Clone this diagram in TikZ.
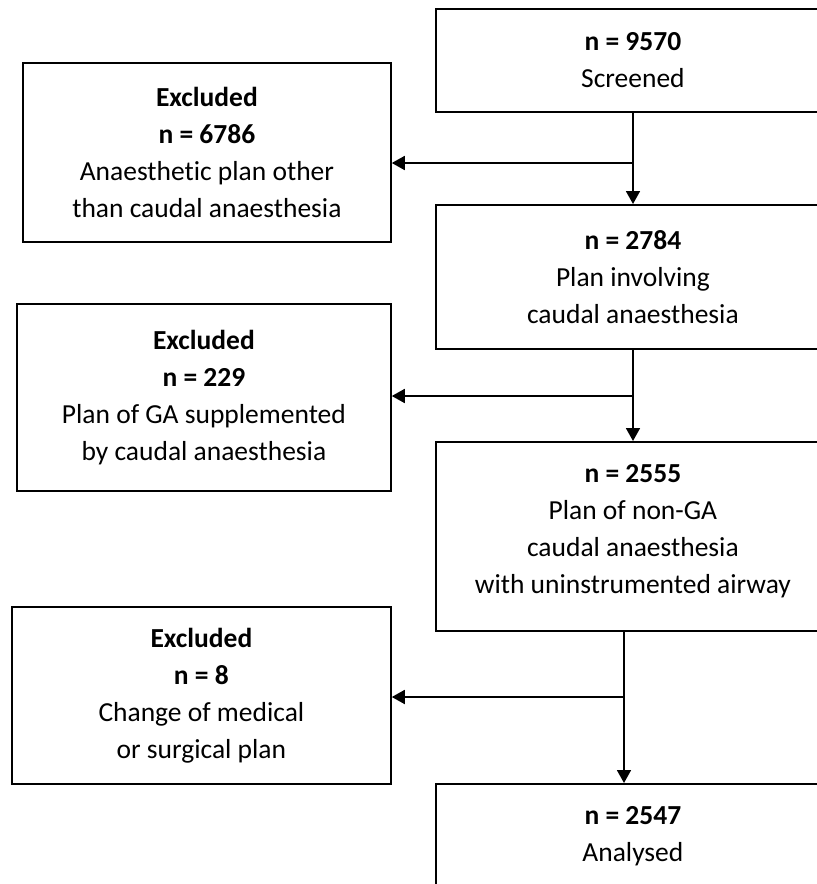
\documentclass[tikz,border=0pt]{standalone}
\usepackage{fontspec}
\setmainfont{Carlito}[Ligatures={NoCommon}]
\usetikzlibrary{arrows.meta}
\begin{document}
\begin{tikzpicture}[x=1pt,y=-1pt,
 box/.style={draw, line width=1.8pt, align=center, inner sep=0pt, anchor=north west, font=\fontsize{27.5}{37}\selectfont},
 arr/.style={line width=1.8pt, -{Triangle[length=13pt,width=14pt]}}]
\useasboundingbox (0,0) rectangle (817,884);
\node[box, minimum width=394pt, minimum height=103pt] (s) at (435,8) {\textbf{n = 9570}\\Screened};
\node[box, minimum width=394pt, minimum height=144pt] (p) at (435,204) {\textbf{n = 2784}\\Plan involving\\caudal anaesthesia};
\node[box, minimum width=394pt, minimum height=189pt] (g) at (435,441) {\textbf{n = 2555}\\Plan of non-GA\\caudal anaesthesia\\with uninstrumented airway\\[-23pt]\mbox{}};
\node[box, minimum width=394pt, minimum height=104pt] (a) at (435,783) {\textbf{n = 2547}\\Analysed};
\node[box, minimum width=368pt, minimum height=179pt] (e1) at (22,62) {\textbf{Excluded}\\\textbf{n = 6786}\\Anaesthetic plan other\\than caudal anaesthesia};
\node[box, minimum width=374pt, minimum height=187pt] (e2) at (16,303) {\textbf{Excluded}\\\textbf{n = 229}\\Plan of GA supplemented\\by caudal anaesthesia};
\node[box, minimum width=379pt, minimum height=177pt] (e3) at (11,606) {\textbf{Excluded}\\\textbf{n = 8}\\Change of medical\\or surgical plan};
\coordinate (b1) at (633,163);
\coordinate (b2) at (633,396);
\coordinate (b3) at (624,697);
\draw[arr] (s.south -| b1) -- (p.north -| b1);
\draw[arr] (b1) -- (e1.east |- b1);
\draw[arr] (p.south -| b2) -- (g.north -| b2);
\draw[arr] (b2) -- (e2.east |- b2);
\draw[arr] (g.south -| b3) -- (a.north -| b3);
\draw[arr] (b3) -- (e3.east |- b3);
\end{tikzpicture}
\end{document}
